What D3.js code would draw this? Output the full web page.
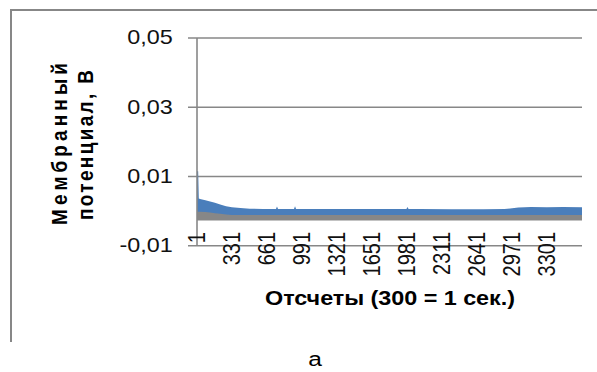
<!DOCTYPE html>
<html>
<head>
<meta charset="utf-8">
<script src="https://cdn.jsdelivr.net/npm/d3@7"></script>
<style>
  html, body { margin: 0; padding: 0; background: #fff; }
</style>
</head>
<body>
<svg id="chart" width="597" height="372"></svg>
<script>
// sample index (300 = 1 s) where the envelope of the traces was read
const sampleIdx  = [1, 12, 18, 30, 80, 125, 170, 220, 275, 330, 410, 500, 620, 700, 745, 755, 765, 800, 915, 925, 935, 1000, 1200, 1400, 1650, 1900, 1975, 1985, 1995, 2100, 2400, 2700, 2900, 3030, 3150, 3300, 3450, 3630];
// blue trace: upper / lower envelope, V
const blueTop    = [0.0115, 0.0115, 0.0036, 0.0035, 0.0031, 0.0028, 0.0024, 0.0019, 0.0014, 0.0011, 0.0009, 0.0007, 0.0006, 0.0006, 0.0006, 0.0013, 0.0006, 0.0006, 0.0006, 0.0014, 0.0006, 0.0006, 0.0006, 0.0006, 0.0006, 0.0006, 0.0006, 0.0012, 0.0006, 0.0006, 0.0005, 0.0005, 0.0006, 0.0010, 0.0012, 0.0011, 0.0012, 0.0011];
const blueBottom = [-0.0012, -0.0012, -0.0012, -0.0012, -0.0012, -0.0012, -0.0012, -0.0012, -0.0012, -0.0013, -0.0013, -0.0013, -0.0013, -0.0013, -0.0013, -0.0013, -0.0013, -0.0013, -0.0013, -0.0013, -0.0013, -0.0013, -0.0013, -0.0013, -0.0013, -0.0013, -0.0013, -0.0013, -0.0013, -0.0013, -0.0013, -0.0013, -0.0013, -0.0013, -0.0013, -0.0013, -0.0013, -0.0013];
// gray trace: upper / lower envelope, V
const grayTop    = [-0.0002, -0.0002, -0.0002, -0.0002, -0.0003, -0.0004, -0.0006, -0.0008, -0.0010, -0.0011, -0.0011, -0.0011, -0.0011, -0.0011, -0.0011, -0.0011, -0.0011, -0.0011, -0.0011, -0.0011, -0.0011, -0.0011, -0.0011, -0.0011, -0.0011, -0.0011, -0.0011, -0.0011, -0.0011, -0.0011, -0.0011, -0.0011, -0.0011, -0.0011, -0.0011, -0.0011, -0.0011, -0.0011];
const grayBottom = [-0.0027, -0.0027, -0.0027, -0.0027, -0.0027, -0.0027, -0.0027, -0.0027, -0.0027, -0.0027, -0.0027, -0.0027, -0.0027, -0.0027, -0.0027, -0.0027, -0.0027, -0.0027, -0.0027, -0.0027, -0.0027, -0.0027, -0.0027, -0.0027, -0.0027, -0.0027, -0.0027, -0.0027, -0.0027, -0.0027, -0.0027, -0.0027, -0.0027, -0.0027, -0.0027, -0.0027, -0.0027, -0.0027];

const xTickLabels = [1, 331, 661, 991, 1321, 1651, 1981, 2311, 2641, 2971, 3301];
const yTickValues = [-0.01, 0.01, 0.03, 0.05];
const nSamples = 3630;

const svg = d3.select("#chart");
const plot = { left: 197, right: 582, top: 38, bottom: 245.7 };
const SX = 1.17;   // the picture is stretched sideways
const FONT = "Arial, 'Liberation Sans', sans-serif";
const GRID = "#878787";

const x = d3.scaleLinear().domain([1, nSamples]).range([plot.left, plot.right]);
const y = d3.scaleLinear().domain([-0.01, 0.05]).range([plot.bottom, plot.top]);
const fmt = d => d3.format(".2f")(d).replace(".", ",").replace("\u2212", "-");

// outer frame (only top and left edges show)
svg.append("path")
  .attr("d", "M11,342V10H597")
  .attr("fill", "none")
  .attr("stroke", GRID)
  .attr("stroke-width", 2);

// gridlines with their ticks
svg.append("g").selectAll("line")
  .data(yTickValues)
  .join("line")
  .attr("x1", plot.left - 9).attr("x2", plot.right)
  .attr("y1", d => y(d)).attr("y2", d => y(d))
  .attr("stroke", GRID).attr("stroke-width", 1.6);

// traces as envelopes
const rows = sampleIdx.map((s, i) => ({ s, bt: blueTop[i], bb: blueBottom[i], gt: grayTop[i], gb: grayBottom[i] }));

svg.append("path")
  .datum(rows)
  .attr("fill", "#4a7ebb")
  .attr("d", d3.area().x(d => x(d.s)).y0(d => y(d.bb)).y1(d => y(d.bt)));

svg.append("path")
  .datum(rows)
  .attr("fill", "#878787")
  .attr("d", d3.area().x(d => x(d.s)).y0(d => y(d.gb)).y1(d => y(d.gt)));

// y axis line
svg.append("line")
  .attr("x1", plot.left).attr("x2", plot.left)
  .attr("y1", plot.top).attr("y2", plot.bottom)
  .attr("stroke", GRID).attr("stroke-width", 1.6);

// y tick labels
svg.append("g").selectAll("text")
  .data(yTickValues)
  .join("text")
  .attr("transform", d => `translate(172.7,${y(d)}) scale(${SX},1)`)
  .attr("text-anchor", "end")
  .attr("dy", "0.32em")
  .attr("font-family", FONT)
  .attr("font-size", 20)
  .attr("fill", "#111")
  .text(fmt);

// x tick labels, rotated
svg.append("g").selectAll("text")
  .data(xTickLabels)
  .join("text")
  .attr("transform", d => `translate(${x(d)},232) scale(${SX},1) rotate(-90)`)
  .attr("text-anchor", "end")
  .attr("dy", "0.35em")
  .attr("font-family", FONT)
  .attr("font-size", 20)
  .attr("fill", "#111")
  .text(d => d);

// axis titles
svg.append("text")
  .attr("transform", `translate(67,144) scale(${SX},1) rotate(-90)`)
  .attr("text-anchor", "middle")
  .attr("font-family", FONT)
  .attr("font-size", 19)
  .attr("font-weight", "bold")
  .attr("textLength", 162)
  .attr("lengthAdjust", "spacing")
  .text("Мембранный");

svg.append("text")
  .attr("transform", `translate(93,145) scale(${SX},1) rotate(-90)`)
  .attr("text-anchor", "middle")
  .attr("font-family", FONT)
  .attr("font-size", 19)
  .attr("font-weight", "bold")
  .attr("textLength", 150)
  .attr("lengthAdjust", "spacing")
  .text("потенциал, В");

svg.append("text")
  .attr("transform", `translate(390,305) scale(${SX},1)`)
  .attr("text-anchor", "middle")
  .attr("font-family", FONT)
  .attr("font-size", 20)
  .attr("font-weight", "bold")
  .attr("textLength", 250 / SX)
  .attr("lengthAdjust", "spacing")
  .text("Отсчеты (300 = 1 сек.)");

// panel letter
svg.append("text")
  .attr("transform", `translate(315,366) scale(${SX},1)`)
  .attr("text-anchor", "middle")
  .attr("font-family", FONT)
  .attr("font-size", 21)
  .text("а");
</script>
</body>
</html>
